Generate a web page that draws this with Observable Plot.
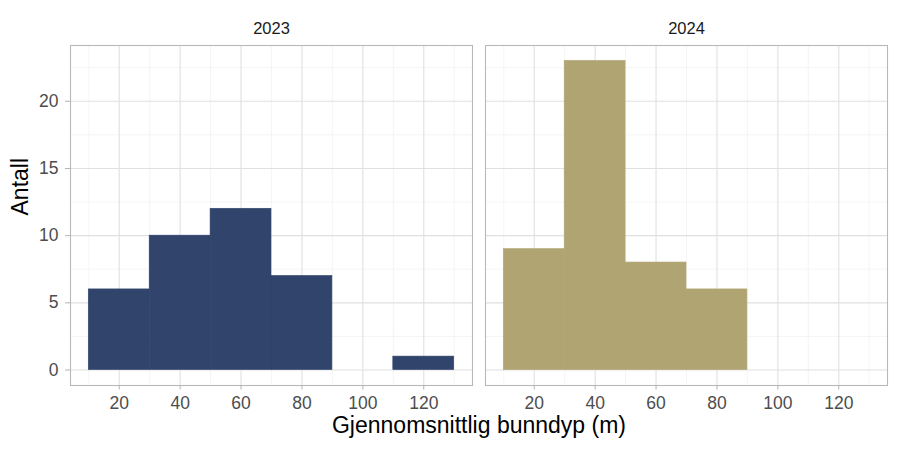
<!DOCTYPE html>
<html>
<head>
<meta charset="utf-8">
<script src="https://cdn.jsdelivr.net/npm/d3@7"></script>
<script src="https://cdn.jsdelivr.net/npm/@observablehq/plot@0.6"></script>
<style>
  body { margin: 0; background: #fff; }
  #chart svg { font-family: "Liberation Sans", Arial, sans-serif; }
</style>
</head>
<body>
<div id="chart"></div>
<script>
const years = ["2023", "2024"];
const binStarts = [10, 30, 50, 70, 90, 110];
const binWidth = 20;
const counts2023 = [6, 10, 12, 7, 0, 1];
const counts2024 = [9, 23, 8, 6, 0, 0];
const xTicks = [20, 40, 60, 80, 100, 120];
const yTicks = [0, 5, 10, 15, 20];
const xMinor = [10, 30, 50, 70, 90, 110, 130];
const yMinor = [2.5, 7.5, 12.5, 17.5, 22.5];
const colors = ["#31446b", "#b0a572"];
const xTitle = "Gjennomsnittlig bunndyp (m)";
const yTitle = "Antall";

const bars = [];
[counts2023, counts2024].forEach((arr, i) => {
  arr.forEach((c, j) => {
    if (c > 0) bars.push({year: years[i], x1: binStarts[j], x2: binStarts[j] + binWidth, count: c});
  });
});

const chart = Plot.plot({
  width: 900,
  height: 450,
  marginTop: 45,
  marginBottom: 65,
  marginLeft: 69,
  marginRight: 12,
  style: {fontFamily: "Liberation Sans, Arial, sans-serif", fontSize: "17px", background: "#fff"},
  fx: {domain: years, paddingInner: 0.0312, paddingOuter: 0, label: null, axis: null},
  x: {domain: [4, 136]},
  y: {domain: [-1.15, 24.15]},
  color: {domain: years, range: colors},
  marks: [
    Plot.ruleX(xMinor, {stroke: "#efefef", strokeWidth: 0.6}),
    Plot.ruleY(yMinor, {stroke: "#efefef", strokeWidth: 0.6}),
    Plot.ruleX(xTicks, {stroke: "#e0e0e0", strokeWidth: 1.1}),
    Plot.ruleY(yTicks, {stroke: "#e0e0e0", strokeWidth: 1.1}),
    Plot.rectY(bars, {fx: "year", x1: "x1", x2: "x2", y1: 0, y2: "count", fill: "year", stroke: "year", strokeWidth: 0.6, inset: 0}),
    Plot.frame({stroke: "#b8b8b8", strokeWidth: 1.1}),
    Plot.axisY(yTicks, {anchor: "left", label: null, tickSize: 5, tickFormat: () => "", stroke: "#b3b3b3"}),
    Plot.axisX(xTicks, {anchor: "bottom", label: null, tickSize: 4.5, tickFormat: () => "", stroke: "#b3b3b3"}),
    // y tick labels (left panel only)
    Plot.text(yTicks, {fx: () => years[0], y: d => d, text: d => String(d), frameAnchor: "left", dx: -12, textAnchor: "end", lineAnchor: "middle", fontSize: 17.5, fill: "#4d4d4d"}),
    // x tick labels (both panels)
    Plot.text(xTicks, {x: d => d, text: d => String(d), frameAnchor: "bottom", dy: 18, lineAnchor: "middle", fontSize: 17.5, fill: "#4d4d4d"}),
    // facet strip labels
    Plot.text(years, {fx: d => d, text: d => d, frameAnchor: "top", dy: -16.5, lineAnchor: "middle", fontSize: 16.5, fill: "#1a1a1a"}),
    Plot.text([yTitle], {facet: "super", frameAnchor: "left", dx: -50, rotate: -90, fontSize: 23, fill: "#000"}),
    Plot.text([xTitle], {facet: "super", frameAnchor: "bottom", dy: 47, fontSize: 23, fill: "#000"})
  ]
});
document.getElementById("chart").appendChild(chart);
</script>
</body>
</html>
